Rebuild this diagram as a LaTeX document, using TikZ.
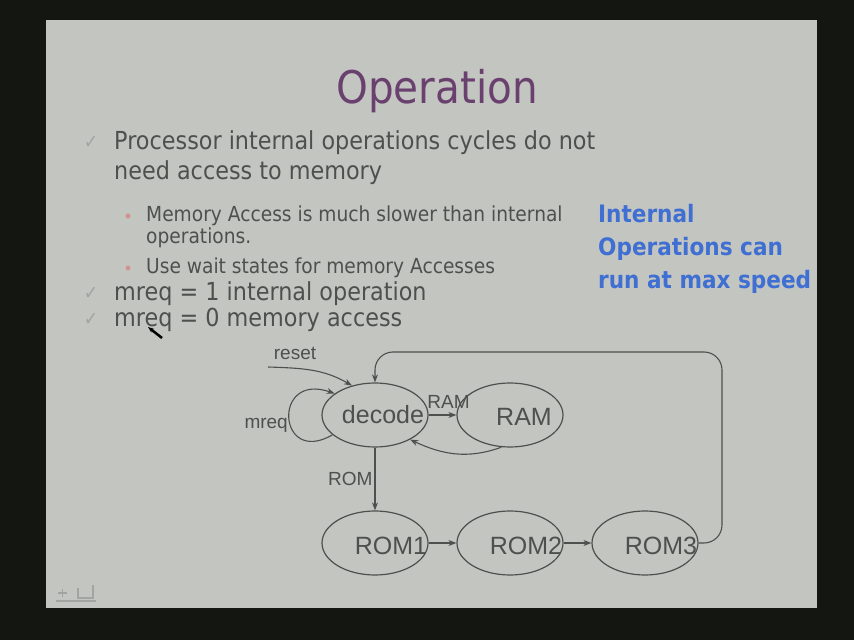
\documentclass[tikz,border=0pt]{standalone}
\usepackage{fontspec}
\usepackage{tikz}
\usetikzlibrary{positioning,shapes,calc}
\usetikzlibrary{arrows.meta}
\newfontfamily\slidefont{DejaVu Sans}[FakeStretch=0.9]
\newfontfamily\graphfont{Liberation Sans}
\definecolor{slidebg}{HTML}{C3C5C1}
\definecolor{frame}{HTML}{141611}
\definecolor{ink}{HTML}{4E504E}
\definecolor{titleink}{HTML}{6A416E}
\definecolor{noteblue}{HTML}{3F6FD2}
\definecolor{dotred}{HTML}{D29292}
\definecolor{tickgray}{HTML}{A2A4A1}

\begin{document}
\begin{tikzpicture}[
  x = 1pt,
  y = 1pt,
  statebox/.style = {
    draw = ink,
    ellipse,
    line width = 1.2pt,
    minimum width = 106pt,
    minimum height = 64pt,
  },
  statename/.style = {
    inner sep = 0pt,
    text = ink,
    font = \graphfont\fontsize{25}{25}\selectfont,
  },
  edgelabel/.style = {
    inner sep = 1pt,
    text = ink,
    font = \graphfont\fontsize{19}{19}\selectfont,
  },
  flow/.style = {->, draw = ink, line width = 1.1pt},
  bodyline/.style = {
    anchor = west,
    inner sep = 0pt,
    text = ink,
    font = \slidefont\fontsize{24.8}{30}\selectfont,
  },
  subline/.style = {bodyline, font = \slidefont\fontsize{20.7}{25}\selectfont},
  checkmark/.style = {text = tickgray, font = \slidefont\fontsize{19}{19}\selectfont},
  >={Stealth[length=8pt,width=6pt]},
]

  % slide and frame
  \useasboundingbox (0,0) rectangle (854,640);
  \fill[frame] (0,0) rectangle (854,640);
  \fill[slidebg] (46,32) rectangle (817,620);

  % title and bullets
  \node[text = titleink, font = \slidefont\fontsize{45}{45}\selectfont] (title) at (437,549) {Operation};

  \node[checkmark] (b1) at (91,497) {✓};
  \node[bodyline] (l1) at (114,497) {Processor internal operations cycles do not};
  \node[bodyline] (l2) at (114,467) {need access to memory};
  \fill[dotred] (128,424) circle (2.5);
  \node[subline] (s1) at (146,424) {Memory Access is much slower than internal};
  \node[subline] (s1b) at (146,402) {operations.};
  \fill[dotred] (128,372) circle (2.5);
  \node[subline] (s2) at (146,372) {Use wait states for memory Accesses};
  \node[checkmark] (b2) at (91,346) {✓};
  \node[bodyline] (m1) at (114,346) {mreq = 1 internal operation};
  \node[checkmark] (b3) at (91,320) {✓};
  \node[bodyline] (m0) at (114,320) {mreq = 0 memory access};

  \node[anchor = west, align = left, inner sep = 0pt, text = noteblue,
        font = \slidefont\bfseries\fontsize{24}{33}\selectfont] (note) at (598,391)
        {Internal\\Operations can\\run at max speed};

  % state machine
  \node[statebox] (dec) at (375,225) {};
  \node[statename] (dectxt) at ([xshift=8pt]dec.center) {decode};
  \node[statebox] (ram) at (510,225) {};
  \node[statename] (ramtxt) at ([xshift=14pt,yshift=-2pt]ram.center) {RAM};
  \foreach \i/\x in {1/375,2/510,3/645} {
    \node[statebox] (rom\i) at (\x,97) {};
    \node[statename] (rom\i txt) at ([xshift=16pt,yshift=-3pt]rom\i.center) {ROM\i};
  }

  \node[edgelabel] (resetlbl) at (295,287) {reset};
  \coordinate (rst) at (268,273);
  \node[edgelabel, anchor = east] (mreqlbl) at (289,215) {mreq};
  \coordinate (back) at (722,288);

  \draw[flow] (rst) to[out=-2, in=150] (dec.128);
  \draw[flow] (dec.205) .. controls +(-55,-32) and +(-63,22) .. (dec.152);
  \draw[flow] (dec) -- node[edgelabel, above=5pt, xshift=6pt] (ramlbl) {RAM} (ram);
  \draw[flow] (ram.255) to[out=200, in=-25] (dec.-35);
  \draw[flow] (dec) -- node[edgelabel, left=1pt] (romlbl) {ROM} (rom1);
  \draw[flow] (rom1) -- (rom2);
  \draw[flow] (rom2) -- (rom3);
  \draw[flow, rounded corners=18pt] (rom3.east) -| (back) -| (dec.north);

  % pointer and slide icon
  \draw[black, line width=2.5pt, -{Stealth[length=6pt]}] (162,302) -- (148,313);
  \draw[tickgray, line width=1.2pt] (56,39) -- (96,39);
  \draw[tickgray, line width=1.2pt] (58,47) -- (67,47) (62.5,43) -- (62.5,51);
  \draw[tickgray, line width=1.2pt] (78,52) -- (78,42) -- (93,42) -- (93,55);

\end{tikzpicture}
\end{document}
